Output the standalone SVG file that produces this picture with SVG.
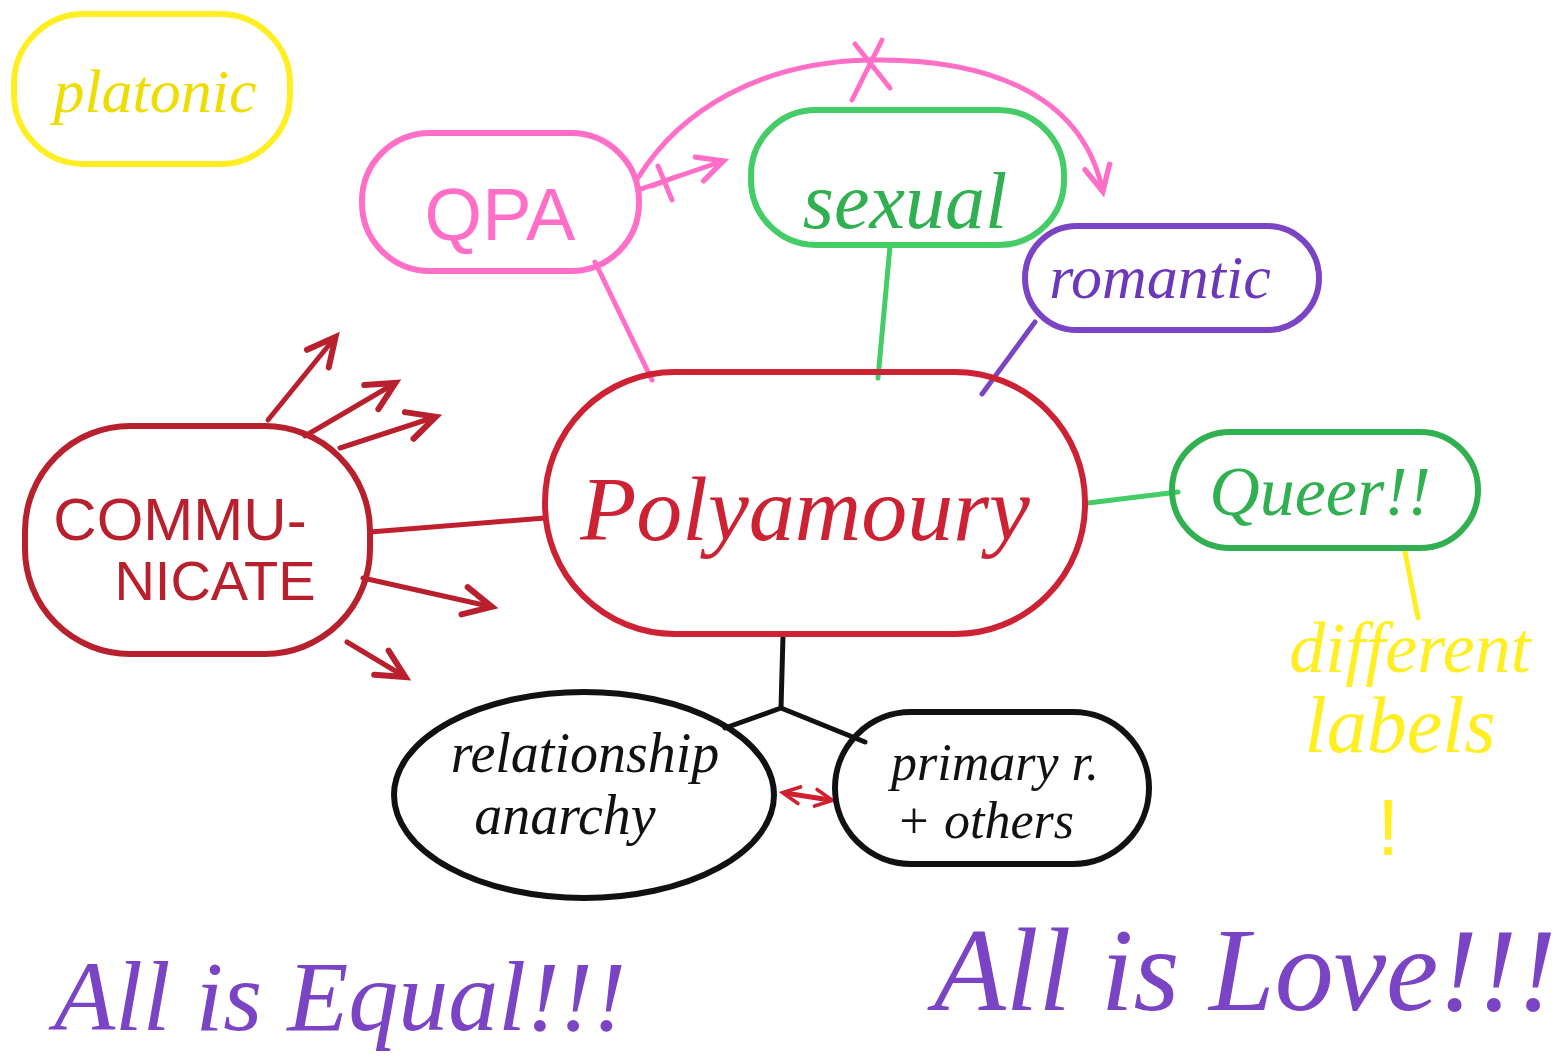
<svg xmlns="http://www.w3.org/2000/svg" width="1565" height="1059" viewBox="0 0 1565 1059">
<style>
.n{fill:none;stroke-width:6;stroke-linecap:round;stroke-linejoin:round}
.c{fill:none;stroke-width:5;stroke-linecap:round;stroke-linejoin:round}
.t{font-family:"Liberation Serif",serif;font-style:italic;text-anchor:middle}
.s{font-family:"Liberation Sans",sans-serif;text-anchor:middle}
</style>
<defs>
<marker id="rr" viewBox="0 0 20 20" refX="14" refY="10" markerWidth="40" markerHeight="40" orient="auto" markerUnits="userSpaceOnUse">
<path d="M2 3 L16 10 L2 17" fill="none" stroke="#b8202e" stroke-width="3" stroke-linecap="round"/>
</marker>
<marker id="pr" viewBox="0 0 20 20" refX="14" refY="10" markerWidth="36" markerHeight="36" orient="auto" markerUnits="userSpaceOnUse">
<path d="M2 3 L16 10 L2 17" fill="none" stroke="#ff6fc8" stroke-width="3" stroke-linecap="round"/>
</marker>
<marker id="rs" viewBox="0 0 20 20" refX="14" refY="10" markerWidth="24" markerHeight="24" orient="auto-start-reverse" markerUnits="userSpaceOnUse">
<path d="M2 3 L16 10 L2 17" fill="none" stroke="#d0202e" stroke-width="3" stroke-linecap="round"/>
</marker>
</defs>
<rect width="1565" height="1059" fill="#ffffff"/>

<g id="connectors">
<path class="c" stroke="#ff6fc8" d="M595 262 L652 380"/>
<path class="c" stroke="#44cc66" d="M890 246 L878 378"/>
<path class="c" stroke="#7a44c4" d="M1035 322 L982 394"/>
<path class="c" stroke="#44cc66" d="M1088 503 L1178 492"/>
<path class="c" stroke="#ffee22" stroke-width="7" d="M1405 552 L1418 618"/>
<path class="c" stroke="#c0202e" d="M370 532 L545 518"/>
<path class="c" stroke="#111111" d="M783 636 L781 708 M781 708 L725 728 M781 708 L865 742"/>
<path class="c" stroke="#d0202e" d="M785 793 L830 800" marker-start="url(#rs)" marker-end="url(#rs)"/>
<path class="c" stroke="#ff6fc8" d="M638 190 L720 162" marker-end="url(#pr)"/>
<path class="c" stroke="#ff6fc8" d="M658 166 L672 200 M652 186 L678 176"/>
<path class="c" stroke="#ff6fc8" d="M638 178 C680 110 760 62 870 60 C980 58 1080 90 1102 188" marker-end="url(#pr)"/>
<path class="c" stroke="#ff6fc8" d="M855 44 L890 88 M882 40 L852 100"/>
<path class="c" stroke="#b8202e" stroke-width="7" d="M268 420 L333 340" marker-end="url(#rr)"/>
<path class="c" stroke="#b8202e" stroke-width="7" d="M305 436 L392 385" marker-end="url(#rr)"/>
<path class="c" stroke="#b8202e" stroke-width="7" d="M340 448 L432 418" marker-end="url(#rr)"/>
<path class="c" stroke="#b8202e" stroke-width="7" d="M363 578 L488 606" marker-end="url(#rr)"/>
<path class="c" stroke="#b8202e" stroke-width="7" d="M347 642 L402 675" marker-end="url(#rr)"/>
</g>

<g id="platonic">
<rect class="n" stroke="#ffee22" stroke-width="8" x="14" y="14" width="276" height="150" rx="70"/>
<text class="t" x="155" y="112" font-size="62" fill="#eedd00">platonic</text>
</g>

<g id="qpa">
<rect class="n" stroke="#ff6fc8" x="362" y="133" width="277" height="138" rx="68"/>
<text class="s" x="500" y="240" font-size="74" fill="#ff6fc8">QPA</text>
</g>

<g id="sexual">
<rect class="n" stroke="#44cc66" x="751" y="110" width="313" height="135" rx="65"/>
<text class="t" x="905" y="228" font-size="80" fill="#30b050">sexual</text>
</g>

<g id="romantic">
<rect class="n" stroke="#7a44c4" x="1025" y="226" width="294" height="104" rx="52"/>
<text class="t" x="1160" y="298" font-size="62" fill="#6a38b8">romantic</text>
</g>

<g id="polyamoury">
<rect class="n" stroke="#cc2233" x="545" y="372" width="540" height="262" rx="130"/>
<text class="t" x="805" y="540" font-size="92" fill="#cc2233">Polyamoury</text>
</g>

<g id="communicate">
<rect class="n" stroke="#b8202e" stroke-width="7" x="25" y="426" width="345" height="228" rx="105"/>
<text class="s" x="180" y="540" font-size="60" fill="#b8202e">COMMU-</text>
<text class="s" x="215" y="600" font-size="56" fill="#b8202e">NICATE</text>
</g>

<g id="queer">
<rect class="n" stroke="#30b050" x="1172" y="432" width="306" height="116" rx="58"/>
<text class="t" x="1320" y="515" font-size="70" fill="#30b050">Queer!!</text>
</g>

<g id="different-labels">
<text class="t" x="1410" y="672" font-size="72" fill="#ffee22">different</text>
<text class="t" x="1400" y="752" font-size="80" fill="#ffee22">labels</text>
<text class="s" x="1388" y="855" font-size="80" fill="#ffee22">!</text>
</g>

<g id="relationship-anarchy">
<ellipse class="n" stroke="#111111" cx="584" cy="795" rx="190" ry="103"/>
<text class="t" x="585" y="772" font-size="56" fill="#111111">relationship</text>
<text class="t" x="565" y="834" font-size="56" fill="#111111">anarchy</text>
</g>

<g id="primary-others">
<rect class="n" stroke="#111111" x="835" y="712" width="314" height="152" rx="76"/>
<text class="t" x="995" y="780" font-size="52" fill="#111111">primary r.</text>
<text class="t" x="985" y="838" font-size="52" fill="#111111">+ others</text>
</g>

<g id="all-is-equal">
<text class="t" x="340" y="1030" font-size="100" fill="#7a44c4">All is Equal!!!</text>
</g>

<g id="all-is-love">
<text class="t" x="1245" y="1010" font-size="118" fill="#7a44c4">All is Love!!!</text>
</g>
</svg>
